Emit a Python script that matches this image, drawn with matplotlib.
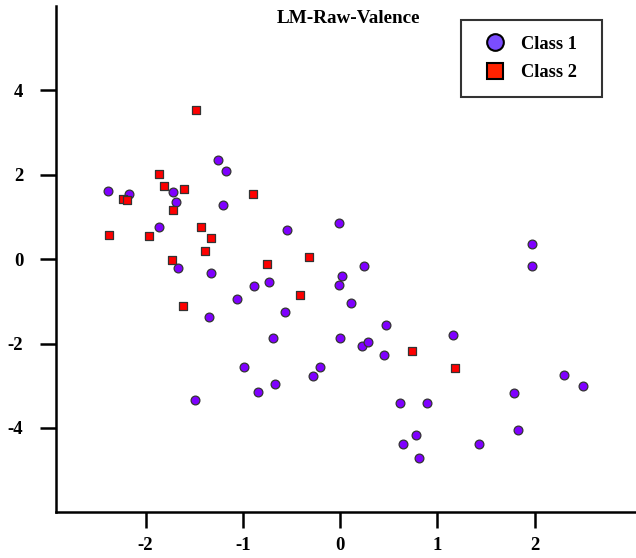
import matplotlib
matplotlib.use("Agg")
import matplotlib.pyplot as plt
from matplotlib.lines import Line2D

# Class 1 (circles)
c1_x = [-2.39, -2.165, -1.72, -1.69, -1.26, -1.17, -1.20, -1.86, -0.55, -1.67,
        -1.33, -0.73, -0.89, -1.06, -1.35, -0.565, -0.69, -0.99, -0.21, -0.28,
        -0.67, -0.84, -1.49, -0.01, 1.97, 1.97, 0.24, 0.02, -0.01, 0.11,
        0.47, 0.00, 0.22, 0.285, 0.45, 1.155, 2.30, 2.50, 1.79, 0.62,
        0.89, 0.78, 0.65, 0.805, 1.43, 1.83]
c1_y = [1.62, 1.54, 1.59, 1.35, 2.36, 2.10, 1.29, 0.76, 0.69, -0.21,
        -0.34, -0.55, -0.64, -0.94, -1.36, -1.25, -1.86, -2.56, -2.55, -2.77,
        -2.97, -3.15, -3.33, 0.85, 0.36, -0.16, -0.16, -0.40, -0.62, -1.05,
        -1.55, -1.86, -2.05, -1.96, -2.27, -1.79, -2.75, -3.00, -3.18, -3.41,
        -3.41, -4.16, -4.38, -4.72, -4.38, -4.06]

# Class 2 (squares)
c2_x = [-1.48, -1.86, -1.81, -1.60, -0.90, -2.23, -2.19, -1.72, -2.38, -1.96,
        -1.43, -1.33, -1.39, -1.73, -0.75, -0.32, -1.61, -0.41, 0.74, 1.175]
c2_y = [3.54, 2.01, 1.74, 1.67, 1.55, 1.42, 1.41, 1.17, 0.57, 0.55,
        0.77, 0.50, 0.20, -0.02, -0.12, 0.05, -1.11, -0.85, -2.17, -2.59]

xticks = [-2, -1, 0, 1, 2]
yticks = [-4, -2, 0, 2, 4]

plt.rcParams["font.family"] = ["Liberation Serif", "DejaVu Serif"]
plt.rcParams["font.weight"] = "bold"
plt.rcParams["axes.unicode_minus"] = False

fig = plt.figure(figsize=(6.36, 5.58), dpi=100)
ax = fig.add_axes([56 / 636, 1 - 512.3 / 558, (636 - 56) / 636, (512.3 - 6) / 558])

ax.scatter(c1_x, c1_y, s=40, marker="o", color="#7F00FF", edgecolor="#333333",
           linewidth=0.9, zorder=3)
ax.scatter(c2_x, c2_y, s=36, marker="s", color="#FF0000", edgecolor="#333333",
           linewidth=0.9, zorder=4)

ax.set_xlim(-2.92, 3.04)
ax.set_ylim(-6.0, 6.0)
ax.set_xticks(xticks)
ax.set_yticks(yticks)
ax.spines["top"].set_visible(False)
ax.spines["right"].set_visible(False)
for s in ["left", "bottom"]:
    ax.spines[s].set_linewidth(1.8)
ax.tick_params(axis="both", length=11.5, width=1.8, labelsize=13.5)
ax.tick_params(axis="x", pad=6)
ax.tick_params(axis="y", pad=12)
for lab in ax.get_xticklabels() + ax.get_yticklabels():
    lab.set_fontweight("bold")

ax.text(0.505, 0.975, "LM-Raw-Valence", transform=ax.transAxes, ha="center",
        va="center", fontsize=13.8, fontweight="bold")

handles = [
    Line2D([], [], linestyle="none", marker="o", markersize=12,
           markerfacecolor="#7B4DFF", markeredgecolor="black", markeredgewidth=1.5),
    Line2D([], [], linestyle="none", marker="s", markersize=11.5,
           markerfacecolor="#FF2200", markeredgecolor="black", markeredgewidth=1.5),
]
# legend box spans x 461..602 px, top at y 20 px
bx0 = (461 - 56) / 580
bw = (602 - 461) / 580
leg = ax.legend(handles, ["Class 1", "Class 2"], loc="upper left",
                bbox_to_anchor=(bx0, 0, bw, 1 - (20 - 6) / 506.3),
                mode="expand", frameon=True, fancybox=False, edgecolor="black",
                prop={"size": 13.3, "weight": "bold"},
                borderpad=0.85, handletextpad=0.4, labelspacing=0.62,
                borderaxespad=0)
leg.get_frame().set_linewidth(1.5)

fig.savefig("out.png", dpi=100)
